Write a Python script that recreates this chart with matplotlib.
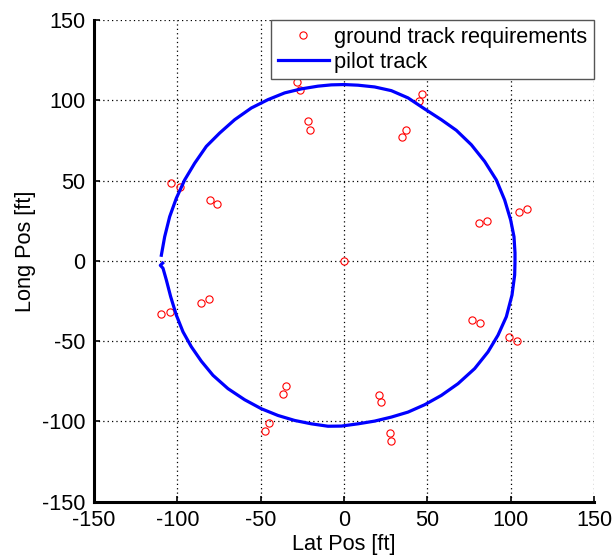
import matplotlib
matplotlib.use("Agg")
import matplotlib.pyplot as plt

plt.rcParams['font.family'] = ['Liberation Sans', 'DejaVu Sans']
plt.rcParams['axes.unicode_minus'] = False

# Ground track requirement points (ft)
req_x = [-103.6, -98.6, -80.6, -76.2, -28, -26.6, -21.6, -20.2, 0, 47, 45, 37.4, 34.8,
         85.8, 80.8, 109.8, 105.2, -110, -104.6, -86, -81.2, -35, -36.6, -44.8, -47.2,
         77, 81.6, 99, 103.8, 21, 22, 27.4, 28.4]
req_y = [48.3, 46.3, 37.9, 35.4, 111.3, 106.3, 86.9, 81.7, 0, 104.2, 99.4, 81.7, 76.9,
         25, 23.3, 32.4, 30.6, -33.1, -32.1, -26, -24, -78.1, -83.1, -101, -106,
         -36.9, -39, -47.7, -50, -83.8, -87.9, -107.2, -112.2]

# Pilot track (ft)
track_x = [-109.6, -107.6, -104.6, -100.6, -95.6, -89.6, -82.6, -74.6, -65.6, -55.6,
           -45.6, -35.6, -25.6, -15.6, -7.6, 0, 8.4, 18.4, 28.4, 38.4, 48.4, 58.4, 67.4,
           76.4, 84.4, 91.4, 96.4, 100, 102, 102.6, 102.6, 102.4, 100.8, 97.4, 92.4,
           86.4, 78.4, 68.4, 58.4, 48.4, 38.4, 28.4, 18.4, 8.4, -1.6, -9.6, -19.6, -29.6,
           -39.6, -49.6, -59.6, -69.6, -78.6, -85.6, -91.6, -96.6, -100.6, -104, -106.6,
           -108.6, -110.2, -108.8]
track_y = [3.5, 15, 27.5, 39, 50.4, 60.8, 71.3, 79.6, 87.9, 95.2,
           100.4, 104.6, 107.1, 108.8, 109.6, 109.8, 109.4, 108.3, 106, 101.5, 94.6, 87.9,
           81.3, 72.3, 61.9, 50.4, 37.9, 25.4, 15, 5, -0.6, -8.8, -21.3, -34.8, -46.3,
           -56.7, -67.1, -76.5, -83.8, -89.6, -94.2, -97.3, -99.8, -101.5, -102.9, -103,
           -101.5, -99.4, -96.3, -92.1, -86.5, -79.6, -71.3, -62.5, -53.5, -44.2, -33.8,
           -22.3, -11.9, -4.6, -2.8, -1.4]

ticks = [-150, -100, -50, 0, 50, 100, 150]

fig = plt.figure(figsize=(6.14, 5.57), dpi=100)
ax = fig.add_axes([94/614, 1 - 501.7/557, 500/614, 481.7/557])

ax.plot(req_x, req_y, linestyle='none', marker='o', markersize=5.2,
        markerfacecolor='none', markeredgecolor='red', markeredgewidth=0.8,
        label='ground track requirements')
ax.plot(track_x, track_y, color='blue', linewidth=2.3, solid_joinstyle='round',
        label='pilot track')

ax.set_xlim(-150, 150)
ax.set_ylim(-150, 150)
ax.set_xticks(ticks)
ax.set_yticks(ticks)
ax.grid(True, color='black', linestyle=(0, (1, 2.5)), linewidth=0.9)
ax.set_axisbelow(True)

for s in ['top', 'right']:
    ax.spines[s].set_visible(False)
for s in ['left', 'bottom']:
    ax.spines[s].set_linewidth(2.2)

ax.tick_params(direction='in', length=4, width=1.2, labelsize=15.7, pad=6)
ax.set_xlabel('Lat Pos [ft]', fontsize=15.7, labelpad=2)
ax.set_ylabel('Long Pos [ft]', fontsize=15.7, labelpad=8)
ax.yaxis.set_label_coords(-0.117, 0.52)

leg = ax.legend(loc='upper right', bbox_to_anchor=(1.0, 1.0), borderaxespad=0,
                fontsize=15.7, frameon=True, fancybox=False, framealpha=1,
                edgecolor='#555555', handlelength=2.35, handletextpad=0.25,
                labelspacing=0.2, borderpad=0.3)
leg.get_frame().set_linewidth(1.0)

fig.savefig('out.png', dpi=100)
